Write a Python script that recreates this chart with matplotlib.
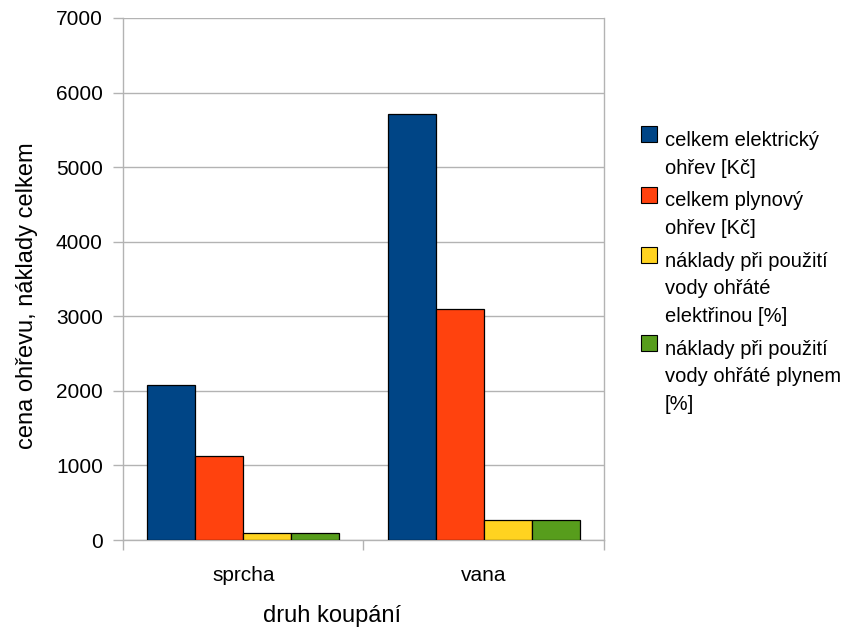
import matplotlib
matplotlib.use("Agg")
import matplotlib.pyplot as plt
from matplotlib.patches import Rectangle

plt.rcParams['font.family'] = ['Liberation Sans', 'DejaVu Sans']
plt.rcParams['font.size'] = 15

categories = ["sprcha", "vana"]
series_names = [
    "celkem elektrický\nohřev [Kč]",
    "celkem plynový\nohřev [Kč]",
    "náklady při použití\nvody ohřáté\nelektřinou [%]",
    "náklady při použití\nvody ohřáté plynem\n[%]",
]
series_values = [
    [2080, 5710],
    [1130, 3100],
    [100, 265],
    [100, 265],
]
series_colors = ["#004586", "#ff420e", "#ffd320", "#579d1c"]
y_ticks = [0, 1000, 2000, 3000, 4000, 5000, 6000, 7000]

W, H = 862, 635
fig = plt.figure(figsize=(W / 100, H / 100), dpi=100)
ax = fig.add_axes([123 / W, 1 - 540 / H, (604 - 123) / W, (540 - 18) / H])

grey = "#b3b3b3"
bar_w = 0.2
offsets = [-0.3, -0.1, 0.1, 0.3]
for vals, off, col in zip(series_values, offsets, series_colors):
    xs = [i + off for i in range(len(categories))]
    ax.bar(xs, vals, width=bar_w, color=col, edgecolor="black", linewidth=0.9, zorder=3)

ax.set_xlim(-0.5, len(categories) - 0.5)
ax.set_ylim(0, 7000)
ax.set_yticks(y_ticks)
ax.set_yticklabels([str(v) for v in y_ticks])
ax.yaxis.grid(True, color=grey, linewidth=1.0, zorder=0)
ax.set_axisbelow(True)

ax.set_xticks(range(len(categories)))
ax.set_xticklabels(categories)
ax.set_xticks([i - 0.5 for i in range(len(categories) + 1)], minor=True)
ax.tick_params(axis="x", which="major", length=0, pad=18.5, labelsize=15)
ax.tick_params(axis="x", which="minor", length=7.5, color=grey, width=1.0)
ax.tick_params(axis="y", length=7.5, color=grey, width=1.0, pad=7, labelsize=15)

for s in ax.spines.values():
    s.set_color(grey)
    s.set_linewidth(1.0)
ax.spines["top"].set_visible(False)

ax.set_xlabel("druh koupání", fontsize=17)
ax.xaxis.set_label_coords((332 - 123) / 481, (540 - 605) / 522)
ax.set_ylabel("cena ohřevu, náklady celkem", fontsize=17)
ax.yaxis.set_label_coords((38 - 123) / 481, (540 - 296) / 522)

# legend drawn as boxes with wrapped labels
box_tops = [126, 186.5, 247, 335]
line_step = 27.5
for name, col, top in zip(series_names, series_colors, box_tops):
    fig.add_artist(Rectangle((641 / W, 1 - (top + 16) / H), 16 / W, 16 / H,
                             transform=fig.transFigure, facecolor=col,
                             edgecolor="black", linewidth=0.8))
    for k, line in enumerate(name.split("\n")):
        fig.text(665 / W, 1 - (top + 20 + k * line_step) / H, line,
                 ha="left", va="baseline", fontsize=14.5)

fig.savefig("out.png", dpi=100)
